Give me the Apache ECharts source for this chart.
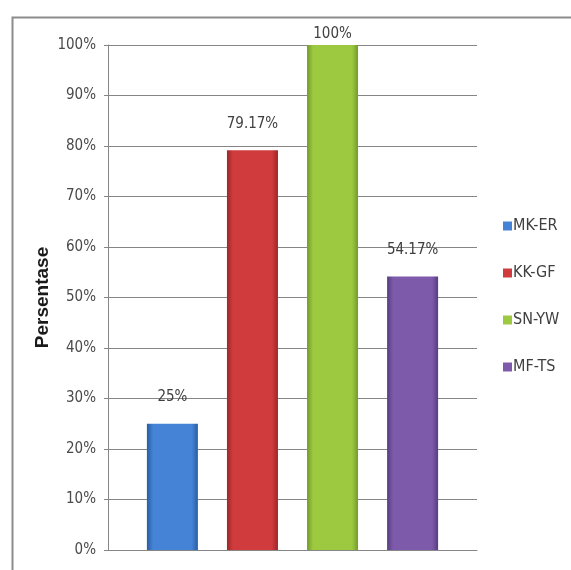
<!DOCTYPE html>
<html>
<head>
<meta charset="utf-8">
<script src="https://cdn.jsdelivr.net/npm/echarts@6/dist/echarts.min.js"></script>
<style>
html,body{margin:0;padding:0;background:#fff;}
#c{width:571px;height:570px;}
</style>
</head>
<body>
<div id="c"></div>
<script>
const seriesNames = ['MK-ER', 'KK-GF', 'SN-YW', 'MF-TS'];
const seriesValues = [25, 79.17, 100, 54.17];
const seriesLabels = ['25%', '79.17%', '100%', '54.17%'];
const yTicks = [0, 10, 20, 30, 40, 50, 60, 70, 80, 90, 100];

const palette = [
  ['#2a5ca3', '#4583d6', '#2a5ca3'],
  ['#9e2627', '#d03c3d', '#9e2627'],
  ['#739c29', '#9dc940', '#739c29'],
  ['#573d7e', '#7e5aab', '#573d7e']
];
function grad(c) {
  return new echarts.graphic.LinearGradient(0, 0, 1, 0, [
    {offset: 0, color: c[0]}, {offset: 0.12, color: c[1]},
    {offset: 0.88, color: c[1]}, {offset: 1, color: c[2]}
  ]);
}
const FONT = '"DejaVu Sans Condensed", "Liberation Sans Narrow", sans-serif';

const chart = echarts.init(document.getElementById('c'));
chart.setOption({
  animation: false,
  backgroundColor: '#fff',
  graphic: [{
    type: 'rect', left: 10, top: 15, shape: {width: 620, height: 620},
    style: {fill: 'none', stroke: '#8c8c8c', lineWidth: 2}, silent: true
  }],
  grid: {left: 108, right: 94, top: 45, bottom: 20},
  legend: {
    orient: 'vertical', left: 498, top: 213,
    itemWidth: 9, itemHeight: 9, itemGap: 31,
    icon: 'rect',
    textStyle: {fontFamily: FONT, fontSize: 16, color: '#404040', padding: [0,0,0,-4]},
    data: seriesNames
  },
  xAxis: {
    type: 'category', data: [''],
    axisLine: {lineStyle: {color: '#868686'}},
    axisTick: {show: false}, axisLabel: {show: false}
  },
  yAxis: {
    type: 'value', min: yTicks[0], max: yTicks[yTicks.length-1], interval: 10,
    name: 'Persentase', nameLocation: 'middle', nameGap: 56, nameMoveOverlap: false,
    nameTextStyle: {fontFamily: '"Liberation Sans", Arial, sans-serif', fontWeight: 'bold', fontSize: 19, color: '#1a1a1a'},
    axisLine: {show: true, lineStyle: {color: '#868686'}},
    axisTick: {show: true, length: 4, lineStyle: {color: '#868686'}},
    axisLabel: {formatter: '{value}%', fontFamily: FONT, fontSize: 15, color: '#4a4a4a', margin: 12},
    splitLine: {lineStyle: {color: '#868686', width: 1}}
  },
  series: seriesNames.map((n, i) => ({
    name: n, type: 'bar',
    barWidth: 51, barGap: '57%',
    itemStyle: {color: grad(palette[i])},
    label: {
      show: true, position: 'top',
      distance: seriesValues[i] >= 100 ? 3 : 19,
      formatter: () => seriesLabels[i],
      fontFamily: FONT, fontSize: 15, color: '#404040'
    },
    data: [seriesValues[i]]
  }))
});
chart.setOption({
  legend: {data: seriesNames.map((n, i) => ({name: n, itemStyle: {color: palette[i][1]}}))}
});
</script>
</body>
</html>
